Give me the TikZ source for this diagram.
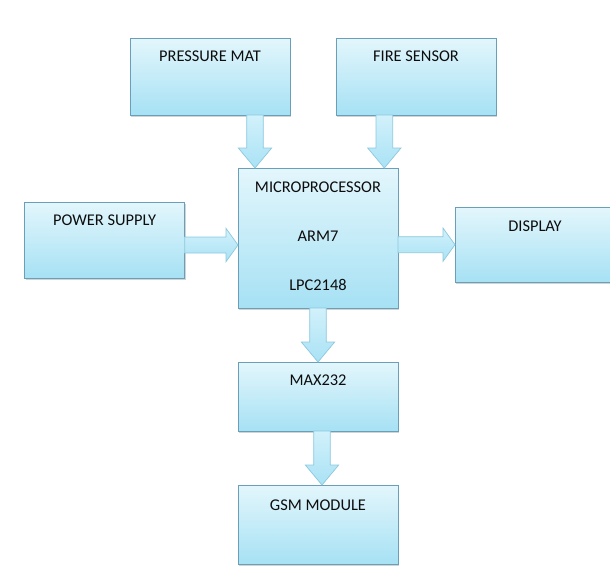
\documentclass[tikz,border=0pt]{standalone}
\usepackage{fontspec}
\setmainfont{Carlito}
\usepackage{tikz}
\usetikzlibrary{positioning}
\usetikzlibrary{calc}
\usetikzlibrary{shadows}
\definecolor{boxtop}{HTML}{E3F6FC}
\definecolor{boxbot}{HTML}{A6E1F4}
\definecolor{boxline}{HTML}{6A9FBA}
\definecolor{arrtop}{HTML}{D2F1FB}
\definecolor{arrbot}{HTML}{A9E2F5}
\definecolor{arrline}{HTML}{8CC8DE}
\tikzset{blk/.style={rectangle, draw=boxline, line width=0.6pt, top color=boxtop, bottom color=boxbot,
  minimum width=4.8cm, inner sep=0pt, outer sep=0pt,
  drop shadow={shadow xshift=0.04cm, shadow yshift=-0.05cm, opacity=0.35}},
  toptext/.style={anchor=north, inner sep=0pt, yshift=-0.39cm, text=black!95, font=\fontsize{14}{17}\selectfont},
  fatarrow/.style={draw=arrline, line width=0.6pt, top color=arrtop, bottom color=arrbot}}
% block arrow pointing down: #1 start, #2 end (only y used)
\newcommand{\dnarrow}[2]{\draw[fatarrow] let \p1=(#1), \p2=(#2) in
  (\x1-0.25cm,\y1) -- (\x1+0.25cm,\y1) -- (\x1+0.25cm,\y2+0.6cm) -- (\x1+0.5cm,\y2+0.6cm)
  -- (\x1,\y2) -- (\x1-0.5cm,\y2+0.6cm) -- (\x1-0.25cm,\y2+0.6cm) -- cycle;}
% block arrow pointing right: #1 start, #2 end (only x used)
\newcommand{\rtarrow}[2]{\draw[fatarrow] let \p1=(#1), \p2=(#2) in
  (\x1,\y1+0.24cm) -- (\x2-0.36cm,\y1+0.24cm) -- (\x2-0.36cm,\y1+0.5cm) -- (\x2,\y1)
  -- (\x2-0.36cm,\y1-0.5cm) -- (\x2-0.36cm,\y1-0.24cm) -- (\x1,\y1-0.24cm) -- cycle;}
\begin{document}
\begin{tikzpicture}
\useasboundingbox (0,0) rectangle (18.3,-17.28);
\clip (0,0) rectangle (18.3,-17.28);
\node (pm) [blk, minimum height=2.31cm, label={[toptext]north:PRESSURE MAT}] at (6.3,-2.295) {};
\node (fs) [blk, minimum height=2.31cm, right=1.38cm of pm, label={[toptext]north:FIRE SENSOR}] {};
\node (mp) [blk, minimum height=4.2cm, label={[toptext, yshift=-0.03cm, align=center]north:MICROPROCESSOR\\[0.87cm]ARM7\\[0.87cm]LPC2148}] at (9.54,-7.14) {};
\node (ps) [blk, minimum height=2.28cm, left=1.6cm of mp, yshift=-0.06cm, label={[toptext]north:POWER SUPPLY}] {};
\node (disp) [blk, minimum height=2.25cm, right=1.71cm of mp, yshift=-0.2cm, label={[toptext]north:DISPLAY}] {};
\node (mx) [blk, minimum height=2.07cm, below=1.62cm of mp, label={[toptext]north:MAX232}] {};
\node (gsm) [blk, minimum height=2.37cm, below=1.62cm of mx, label={[toptext, yshift=-0.06cm]north:GSM MODULE}] {};

\dnarrow{$(pm.south)+(1.35,0)$}{mp.north}
\dnarrow{$(fs.south)+(-0.95,0)$}{mp.north}
\rtarrow{$(ps.east)+(0,-0.15)$}{mp.west}
\rtarrow{$(mp.east)+(0,-0.2)$}{disp.west}
\dnarrow{mp.south}{mx.north}
\dnarrow{$(mx.south)+(0.12,0)$}{gsm.north}
\end{tikzpicture}
\end{document}
